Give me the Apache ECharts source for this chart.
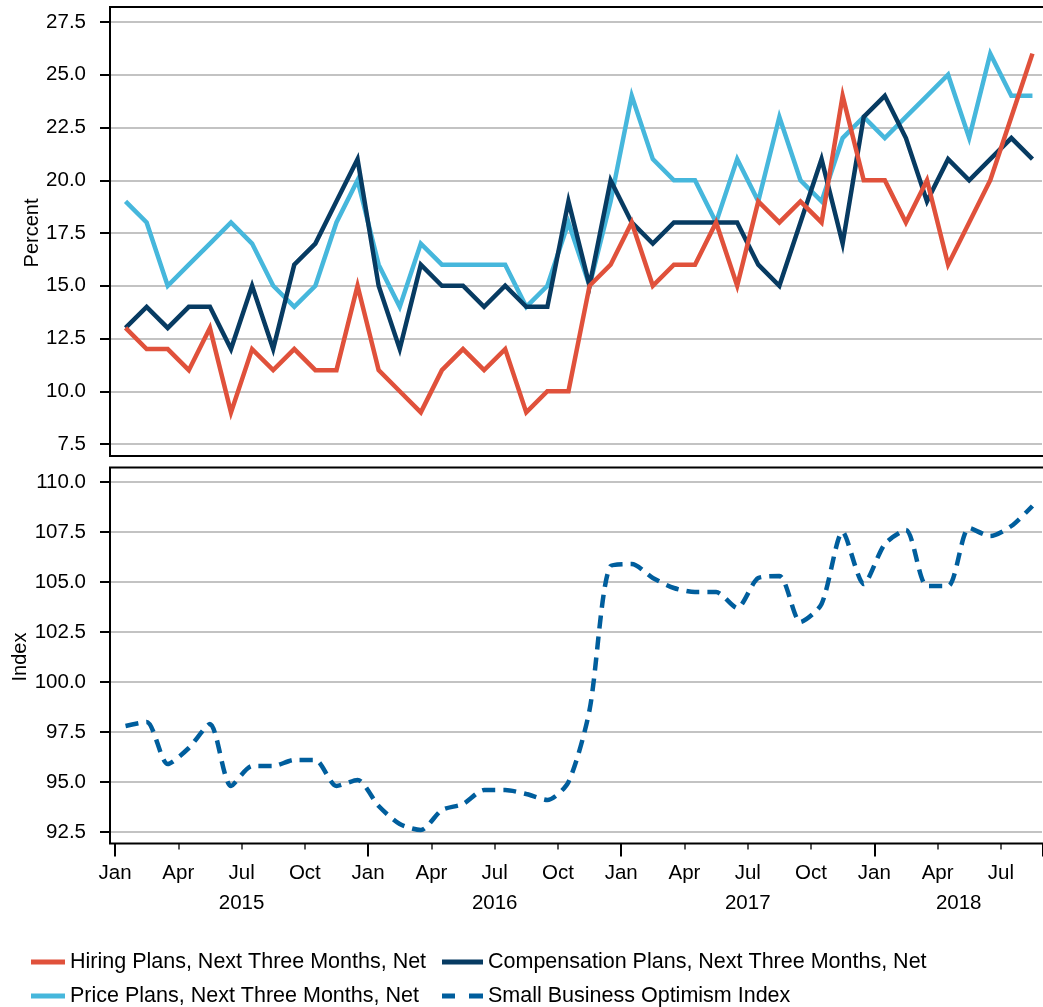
<!DOCTYPE html>
<html>
<head>
<meta charset="utf-8">
<title>Small business plans and optimism</title>
<script src="https://cdn.jsdelivr.net/npm/echarts@6/dist/echarts.min.js"></script>
<style>
  html, body { margin: 0; padding: 0; background: #fff; }
  #chart { width: 1043px; height: 1007px; }
</style>
</head>
<body>
<div id="chart"></div>
<script>
const months = [
  'Jan 2015', 'Feb 2015', 'Mar 2015', 'Apr 2015', 'May 2015', 'Jun 2015',
  'Jul 2015', 'Aug 2015', 'Sep 2015', 'Oct 2015', 'Nov 2015', 'Dec 2015',
  'Jan 2016', 'Feb 2016', 'Mar 2016', 'Apr 2016', 'May 2016', 'Jun 2016',
  'Jul 2016', 'Aug 2016', 'Sep 2016', 'Oct 2016', 'Nov 2016', 'Dec 2016',
  'Jan 2017', 'Feb 2017', 'Mar 2017', 'Apr 2017', 'May 2017', 'Jun 2017',
  'Jul 2017', 'Aug 2017', 'Sep 2017', 'Oct 2017', 'Nov 2017', 'Dec 2017',
  'Jan 2018', 'Feb 2018', 'Mar 2018', 'Apr 2018', 'May 2018', 'Jun 2018',
  'Jul 2018', 'Aug 2018'
]

const hiring = [
  13, 12, 12, 11, 13, 9, 12, 11, 12, 11, 11, 15,
  11, 10, 9, 11, 12, 11, 12, 9, 10, 10, 15, 16,
  18, 15, 16, 16, 18, 15, 19, 18, 19, 18, 24, 20,
  20, 18, 20, 16, 18, 20, 23, 26
]

const compensation = [
  13, 14, 13, 14, 14, 12, 15, 12, 16, 17, 19, 21,
  15, 12, 16, 15, 15, 14, 15, 14, 14, 19, 15, 20,
  18, 17, 18, 18, 18, 18, 16, 15, 18, 21, 17, 23,
  24, 22, 19, 21, 20, 21, 22, 21
]

const price = [
  19, 18, 15, 16, 17, 18, 17, 15, 14, 15, 18, 20,
  16, 14, 17, 16, 16, 16, 16, 14, 15, 18, 15, 19,
  24, 21, 20, 20, 18, 21, 19, 23, 20, 19, 22, 23,
  22, 23, 24, 25, 22, 26, 24, 24
]

const optimism = [
  97.8, 98.0, 95.9, 96.7, 97.9, 94.8, 95.8, 95.8, 96.1, 96.1, 94.8, 95.1,
  93.8, 92.9, 92.6, 93.6, 93.9, 94.6, 94.6, 94.4, 94.1, 95.0, 98.6, 105.8,
  105.9, 105.2, 104.7, 104.5, 104.5, 103.7, 105.2, 105.3, 103.0, 103.9, 107.5, 104.9,
  106.9, 107.6, 104.8, 104.8, 107.7, 107.3, 107.8, 108.8
]

const seriesNames = [
  'Hiring Plans, Next Three Months, Net',
  'Compensation Plans, Next Three Months, Net',
  'Price Plans, Next Three Months, Net',
  'Small Business Optimism Index'
]

const percentRange = [7.5, 27.5]
const indexRange = [92.5, 110]
const tickStep = 2.5

const FONT = "'Liberation Sans', Arial, Helvetica, sans-serif"
const COLORS = {
  hiring: '#e0513b',
  compensation: '#073b62',
  price: '#46b7dc',
  optimism: '#005e9d'
}

// legend swatches: a solid bar and a two-dash bar
const SOLID_ICON = 'path://M0,0H34V5H0Z'
const WIDE_SOLID_ICON = 'path://M0,0H41V5H0Z'
const DASH_ICON = 'path://M0,0H13V5H0ZM27,0H41V5H27Z'

// a year label sits in the middle of the months shown for that year
const yearLabelIndex = []
{
  const firstIndex = {}
  const count = {}
  months.forEach((m, i) => {
    const y = m.split(' ')[1]
    if (firstIndex[y] === undefined) firstIndex[y] = i
    count[y] = (count[y] || 0) + 1
  })
  Object.keys(firstIndex).forEach((y) => {
    yearLabelIndex.push(firstIndex[y] + Math.floor(count[y] / 2))
  })
}

const chart = echarts.init(document.getElementById('chart'), null, { renderer: 'canvas' })

const hiddenValueX = (gridIndex) => ({
  type: 'value', gridIndex, show: false, min: 0, max: 1
})

const hiddenCategoryX = (gridIndex) => ({
  type: 'category', gridIndex, show: false, data: months
})

const visibleY = (gridIndex, range, name, nameGap) => ({
  type: 'value',
  gridIndex,
  min: range[0],
  max: range[1],
  interval: tickStep,
  name,
  nameLocation: 'middle',
  nameGap,
  nameMoveOverlap: false,
  nameTextStyle: { fontFamily: FONT, fontSize: 20, color: '#000' },
  axisLine: { show: false },
  axisTick: { show: true, length: 10, lineStyle: { color: '#000', width: 2 } },
  axisLabel: {
    margin: 24,
    fontFamily: FONT,
    fontSize: 20.5,
    color: '#000',
    formatter: (v) => v.toFixed(1)
  },
  splitLine: { show: true, lineStyle: { color: '#c3c3c3', width: 2 } }
})

const hiddenY = (gridIndex, range) => ({
  type: 'value', gridIndex, show: false, min: range[0], max: range[1], interval: tickStep
})

const bandShift = [0, 21, 0, 0]

const legendBase = {
  orient: 'vertical',
  top: 946,
  height: 120,
  itemHeight: 5,
  itemGap: 12,
  textStyle: { fontFamily: FONT, fontSize: 21.5, color: '#000' }
}

const option = {
  animation: false,
  backgroundColor: '#fff',
  textStyle: { fontFamily: FONT },
  grid: [
    { left: 110, right: 1, top: 22, height: 422, outerBoundsMode: 'none' },
    { left: 115, right: 0, top: 22, height: 422, outerBoundsMode: 'none' },
    { left: 110, right: 1, top: 482, height: 350, outerBoundsMode: 'none' },
    { left: 115, right: 0, top: 482, height: 350, outerBoundsMode: 'none' }
  ],
  xAxis: [
    hiddenValueX(0),
    hiddenCategoryX(1),
    hiddenValueX(2),
    {
      type: 'category',
      gridIndex: 3,
      data: months,
      position: 'bottom',
      offset: 11.5,
      axisLine: { show: false },
      axisTick: {
        show: true,
        interval: (i) => i % 3 === 0,
        length: 6,
        lineStyle: { color: '#222', width: 1.5 }
      },
      axisLabel: {
        interval: (i) => i % 3 === 0,
        formatter: (v) => v.split(' ')[0],
        margin: 19,
        padding: bandShift,
        fontFamily: FONT,
        fontSize: 20.5,
        color: '#000'
      },
      splitLine: { show: false }
    },
    {
      type: 'category',
      gridIndex: 3,
      data: months,
      position: 'bottom',
      offset: 11.5,
      axisLine: { show: false },
      axisTick: {
        show: true,
        interval: (i) => i % 12 === 0,
        length: 13,
        lineStyle: { color: '#000', width: 2 }
      },
      axisLabel: { show: false },
      splitLine: { show: false }
    },
    {
      type: 'category',
      gridIndex: 3,
      data: months,
      position: 'bottom',
      offset: 11.5,
      axisLine: { show: false },
      axisTick: { show: false },
      axisLabel: {
        interval: (i) => yearLabelIndex.includes(i),
        formatter: (v) => v.split(' ')[1],
        margin: 49,
        padding: bandShift,
        fontFamily: FONT,
        fontSize: 20.5,
        color: '#000'
      },
      splitLine: { show: false }
    }
  ],
  yAxis: [
    visibleY(0, percentRange, 'Percent', 68),
    hiddenY(1, percentRange),
    visibleY(2, indexRange, 'Index', 80),
    hiddenY(3, indexRange)
  ],
  legend: [
    Object.assign({}, legendBase, {
      left: 26,
      itemWidth: 34,
      data: [
        { name: seriesNames[0], icon: SOLID_ICON },
        { name: seriesNames[2], icon: SOLID_ICON }
      ]
    }),
    Object.assign({}, legendBase, {
      left: 437,
      itemWidth: 41,
      data: [
        { name: seriesNames[1], icon: WIDE_SOLID_ICON },
        { name: seriesNames[3], icon: DASH_ICON }
      ]
    })
  ],
  series: [
    {
      name: seriesNames[2],
      type: 'line',
      xAxisIndex: 1,
      yAxisIndex: 1,
      data: price,
      symbol: 'none',
      color: COLORS.price,
      lineStyle: { width: 4.5, color: COLORS.price, join: 'miter' }
    },
    {
      name: seriesNames[1],
      type: 'line',
      xAxisIndex: 1,
      yAxisIndex: 1,
      data: compensation,
      symbol: 'none',
      color: COLORS.compensation,
      lineStyle: { width: 4.5, color: COLORS.compensation, join: 'miter' }
    },
    {
      name: seriesNames[0],
      type: 'line',
      xAxisIndex: 1,
      yAxisIndex: 1,
      data: hiring,
      symbol: 'none',
      color: COLORS.hiring,
      lineStyle: { width: 4.5, color: COLORS.hiring, join: 'miter' }
    },
    {
      name: seriesNames[3],
      type: 'line',
      xAxisIndex: 3,
      yAxisIndex: 3,
      data: optimism,
      symbol: 'none',
      smooth: 0.25,
      color: COLORS.optimism,
      lineStyle: { width: 4.5, color: COLORS.optimism, type: [13, 8], cap: 'butt' }
    }
  ],
  graphic: [
    {
      type: 'rect',
      silent: true,
      z: 100,
      shape: { x: 110, y: 7, width: 934, height: 449 },
      style: { fill: 'none', stroke: '#000', lineWidth: 2 }
    },
    {
      type: 'rect',
      silent: true,
      z: 100,
      shape: { x: 110, y: 467.5, width: 934, height: 376 },
      style: { fill: 'none', stroke: '#000', lineWidth: 2 }
    }
  ]
}

chart.setOption(option)

window.addEventListener('resize', () => chart.resize())
</script>
</body>
</html>
